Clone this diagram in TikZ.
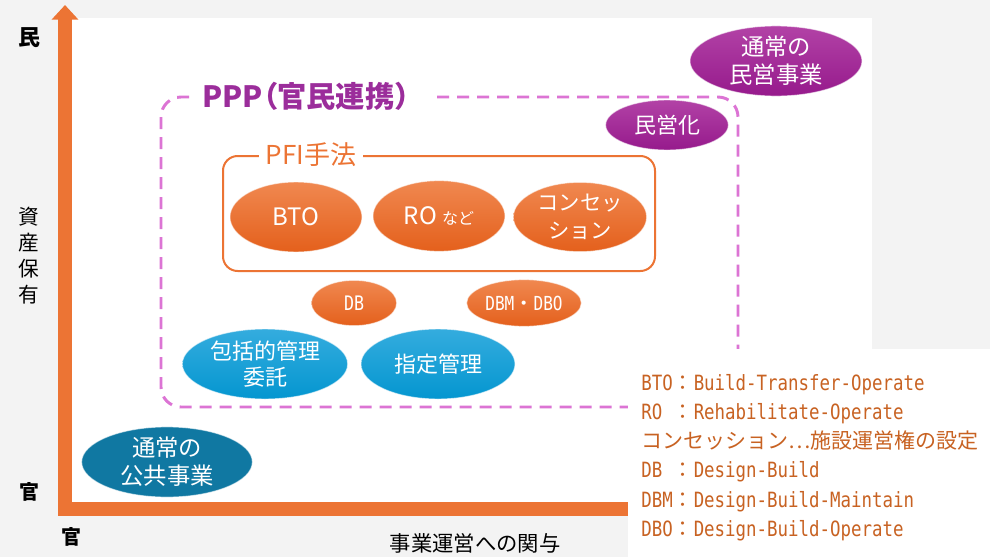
\documentclass[tikz,border=0pt]{standalone}
\usepackage{fontspec}
\setmainfont{Noto Sans CJK JP}
\newfontfamily\legendmono[FakeStretch=0.83]{DejaVu Sans Mono}
\usetikzlibrary{shapes.geometric,arrows.meta}

\definecolor{bggrey}{RGB}{243,243,243}
\definecolor{axisorange}{RGB}{236,116,52}
\definecolor{orangetop}{RGB}{240,136,80}
\definecolor{orangebot}{RGB}{228,96,28}
\definecolor{bluetop}{RGB}{52,172,222}
\definecolor{bluebot}{RGB}{4,150,208}
\definecolor{tealfill}{RGB}{16,120,162}
\definecolor{purpletop}{RGB}{178,66,166}
\definecolor{purplebot}{RGB}{150,26,140}
\definecolor{pppdash}{RGB}{220,116,212}
\definecolor{ppptext}{RGB}{155,45,155}
\definecolor{legendbrown}{RGB}{200,98,34}

\newcommand{\fsz}[2]{\fontsize{#1}{#2}\selectfont}
\newcommand{\zcolon}{{\rmfamily ：}}

\begin{document}
\begin{tikzpicture}[
      x=0.75pt, y=-0.75pt,
      ball/.style={ellipse, inner sep=0pt, align=center, text=white,
        draw=white, draw opacity=0.55, line width=0.7pt},
      orangeball/.style={ball, top color=orangetop, bottom color=orangebot},
      blueball/.style={ball, top color=bluetop, bottom color=bluebot},
      tealball/.style={ball, fill=tealfill},
      purpleball/.style={ball, top color=purpletop, bottom color=purplebot},
      axislabel/.style={text=black, inner sep=0pt, align=center},
      legendtext/.style={text=legendbrown, inner sep=0pt,
        font=\legendmono\fsz{15.75pt}{19pt}}
    ]
      \fill[bggrey] (0,0) rectangle (990,557);
      \useasboundingbox (0,0) rectangle (990,557);
      \fill[white] (72,18) rectangle (872,502);

      \coordinate (ytip) at (65,5);
      \coordinate (corner) at (65,509);
      \coordinate (xtip) at (960,509);
      \draw[axisorange, line width=10.5pt,
        {Triangle[width=19.5pt,length=11pt]}-{Triangle[width=19.5pt,length=11pt]}]
        (ytip) -- (corner) -- (xtip);

      \node[axislabel, font=\bfseries\fsz{16.5pt}{20pt}] (minlabel) at (29,38) {民};
      \node[axislabel, font=\fsz{15.5pt}{19.5pt}] (assetlabel) at (29,256) {資\\産\\保\\有};
      \node[axislabel, font=\bfseries\fsz{15pt}{18pt}] (kanlabel) at (29,492) {官};
      \node[axislabel, font=\bfseries\fsz{15pt}{18pt}] (kanbottom) at (71,537) {官};
      \node[axislabel, font=\fsz{16pt}{19pt}] (operlabel) at (475,543) {事業運営への関与};

      \draw[pppdash, line width=2.2pt, dash pattern=on 9pt off 6pt, rounded corners=15pt]
        (161,97) rectangle (738,407);
      \node[fill=white, text=ppptext, inner xsep=8.5pt, inner ysep=2pt,
        font=\bfseries\fsz{22pt}{25pt}] (ppp) at (313,96)
        {PPP{\addfontfeature{RawFeature=+palt}（}官民連携）};

      \draw[axisorange, line width=1.5pt, rounded corners=11pt]
        (223,156) rectangle (655,271);
      \node[fill=white, text=axisorange, inner xsep=5pt, inner ysep=1pt,
        font=\fsz{19.5pt}{22pt}] (pfi) at (311,155) {PFI手法};

      \node[orangeball, minimum width=99pt, minimum height=52.5pt,
        font=\fsz{18pt}{21pt}] (bto) at (296,217) {BTO};
      \node[orangeball, minimum width=99pt, minimum height=53pt,
        font=\fsz{18pt}{21pt}] (ro) at (439,216) {RO {\fsz{12pt}{14pt}など}};
      \node[orangeball, minimum width=100pt, minimum height=52pt,
        font=\fsz{16pt}{21pt}] (concession) at (580,217) {コンセッ\\ション};
      \node[orangeball, minimum width=64pt, minimum height=34pt,
        font=\legendmono\fsz{15pt}{18pt}] (db) at (354,303) {DB};
      \node[orangeball, minimum width=86pt, minimum height=35pt,
        font=\legendmono\fsz{14.5pt}{18pt}] (dbmdbo) at (524,303) {DBM{\rmfamily ・}DBO};

      \node[blueball, minimum width=124pt, minimum height=52.5pt,
        font=\fsz{16.5pt}{19.5pt}] (houkatsu) at (265,364) {包括的管理\\委託};
      \node[blueball, minimum width=115.5pt, minimum height=52.5pt,
        font=\fsz{16.5pt}{19.5pt}] (shitei) at (438,364) {指定管理};

      \node[tealball, minimum width=128pt, minimum height=50pt,
        font=\fsz{17.5pt}{21pt}] (koukyou) at (167,462) {通常の\\公共事業};

      \node[purpleball, minimum width=92pt, minimum height=37.5pt,
        font=\fsz{16.5pt}{19pt}] (mineika) at (667,125) {民営化};
      \node[purpleball, minimum width=129pt, minimum height=49.5pt,
        font=\fsz{17.5pt}{21pt}] (minjigyou) at (776,61) {通常の\\民営事業};

      \fill[white, rounded corners=12pt] (628,349) rectangle (1010,580);
      \foreach \txt [count=\i] in {BTO\zcolon Build-Transfer-Operate,
          RO\ \zcolon Rehabilitate-Operate,
          {\rmfamily コンセッション⋯施設運営権の設定},
          DB\ \zcolon Design-Build,
          DBM\zcolon Design-Build-Maintain,
          DBO\zcolon Design-Build-Operate}
        \node[legendtext, anchor=base west] (legend\i) at (641,360.7+29.3*\i) {\txt};
    \end{tikzpicture}
\end{document}
